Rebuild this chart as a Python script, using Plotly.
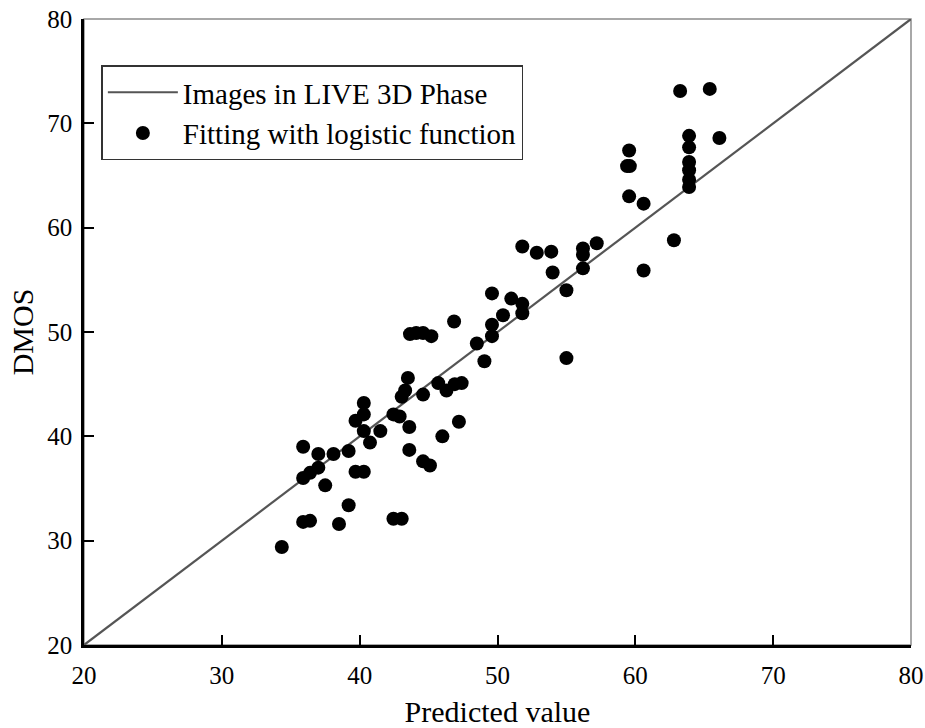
import plotly.graph_objects as go

# Reference line (Images in LIVE 3D Phase): y = x
line_x = [20, 80]
line_y = [20, 80]

# Scatter points (Fitting with logistic function)
pred = [34.35, 35.9, 36.4, 38.5, 39.2, 42.45, 43.05, 37.5, 35.9, 36.4,
        37.0, 35.9, 37.0, 38.1, 39.2, 39.7, 40.3, 40.3, 40.75, 41.5,
        39.7, 40.3, 40.3, 42.45, 42.9, 43.6, 43.6, 44.6, 45.1, 43.05,
        43.3, 43.5, 44.6, 46.0, 47.2, 45.7, 46.3, 46.9, 47.4, 43.65,
        44.1, 44.6, 45.2, 46.85, 48.5, 49.05, 49.6, 49.6, 50.4, 49.6,
        51.0, 51.8, 51.8, 51.8, 52.85, 53.9, 54.0, 55.0, 55.0, 56.2,
        56.2, 56.2, 57.2, 60.6, 62.8, 59.55, 59.4, 59.6, 59.55, 60.6,
        63.25, 65.4, 63.9, 63.9, 66.1, 63.9, 63.9, 63.9, 63.9]
dmos = [29.4, 31.8, 31.9, 31.6, 33.4, 32.1, 32.1, 35.3, 36.0, 36.5,
        37.0, 39.0, 38.3, 38.3, 38.6, 36.6, 36.6, 40.5, 39.4, 40.5,
        41.5, 42.1, 43.2, 42.1, 41.9, 40.9, 38.7, 37.6, 37.2, 43.8,
        44.4, 45.6, 44.0, 40.0, 41.4, 45.1, 44.4, 45.0, 45.1, 49.8,
        49.9, 49.9, 49.6, 51.0, 48.9, 47.2, 50.7, 49.6, 51.6, 53.7,
        53.2, 52.7, 51.8, 58.2, 57.6, 57.7, 55.7, 54.0, 47.5, 58.0,
        57.4, 56.1, 58.5, 55.9, 58.8, 67.4, 65.9, 65.9, 63.0, 62.3,
        73.1, 73.3, 68.8, 67.7, 68.6, 66.3, 65.5, 64.6, 63.9]

tick_vals = [20, 30, 40, 50, 60, 70, 80]

FONT = "Liberation Serif"

fig = go.Figure()
fig.add_trace(go.Scatter(x=line_x, y=line_y, mode="lines",
                         name="Images in LIVE 3D Phase",
                         line=dict(color="#555555", width=2.2)))
fig.add_trace(go.Scatter(x=pred, y=dmos, mode="markers",
                         name="Fitting with logistic function",
                         marker=dict(color="black", size=14)))

# top/right frame in gray
fig.add_shape(type="rect", xref="paper", yref="paper", x0=0, y0=0, x1=1, y1=1,
              line=dict(color="#8c8c8c", width=1.5), layer="below")

axis_common = dict(
    range=[20, 80], tickvals=tick_vals, ticks="inside", ticklen=10,
    tickwidth=2, tickcolor="black", showline=True, linecolor="black",
    linewidth=2.5, showgrid=False, zeroline=False, automargin=False,
    tickfont=dict(family=FONT, size=25, color="black"),
)

fig.update_layout(
    width=925, height=728,
    margin=dict(l=84, r=14, t=19, b=83),
    paper_bgcolor="white", plot_bgcolor="white",
    font=dict(family=FONT, color="black"),
    xaxis=dict(**axis_common, ticklabelstandoff=6,
               title=dict(text="Predicted value", font=dict(family=FONT, size=30), standoff=14)),
    yaxis=dict(**axis_common, ticklabelstandoff=4,
               title=dict(text="DMOS", font=dict(family=FONT, size=30), standoff=5)),
    legend=dict(x=0.021, y=0.85, xanchor="left", yanchor="middle",
                bordercolor="#333333", borderwidth=1.5, bgcolor="white",
                font=dict(family=FONT, size=29, color="black"),
                tracegroupgap=0, itemwidth=70),
    showlegend=True,
)

fig.write_html("out.html")
